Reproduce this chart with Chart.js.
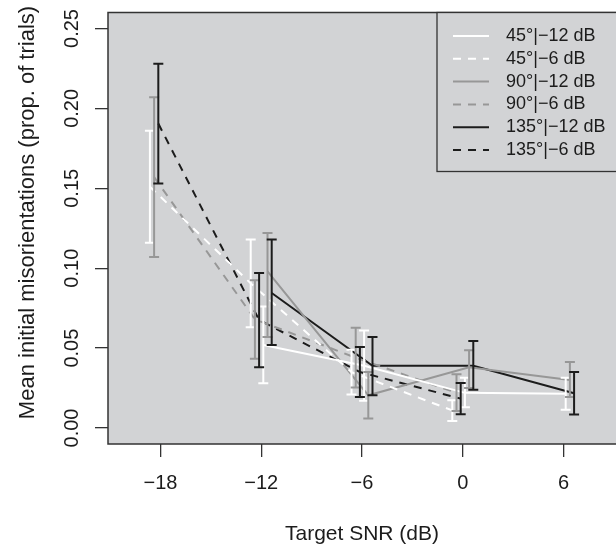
<!DOCTYPE html>
<html>
<head>
<meta charset="utf-8">
<script src="https://cdn.jsdelivr.net/npm/chart.js@4.4.1/dist/chart.umd.min.js"></script>
<style>
html, body { margin: 0; padding: 0; background: #fff; }
canvas { display: block; }
</style>
</head>
<body>
<canvas id="myChart" width="616" height="547"></canvas>
<script>
// target SNR for the two masker levels
var snrMinus6 = [-18, -12, -6, 0];
var snrMinus12 = [-12, -6, 0, 6];
var xTicks = [-18, -12, -6, 0, 6];
var yTicks = [0, 0.05, 0.10, 0.15, 0.20, 0.25];

var seriesLabels = ["45°|−12 dB", "45°|−6 dB", "90°|−12 dB", "90°|−6 dB", "135°|−12 dB", "135°|−6 dB"];
var yTitle = "Mean initial misorientations (prop. of trials)";

// means and error bar ends (prop. of trials)
var mean45_12 = [0.052, 0.039, 0.022, 0.0215];
var lo45_12 = [0.028, 0.017, 0.013, 0.0115];
var hi45_12 = [0.076, 0.061, 0.0315, 0.0315];

var mean45_6 = [0.151, 0.0905, 0.035, 0.011];
var lo45_6 = [0.116, 0.063, 0.021, 0.0044];
var hi45_6 = [0.186, 0.118, 0.049, 0.0173];

var mean90_12 = [0.098, 0.0205, 0.038, 0.030];
var lo90_12 = [0.057, 0.006, 0.025, 0.0194];
var hi90_12 = [0.122, 0.035, 0.0486, 0.0413];

var mean90_6 = [0.157, 0.068, 0.044, 0.022];
var lo90_6 = [0.107, 0.0434, 0.0253, 0.0106];
var hi90_6 = [0.207, 0.0924, 0.0628, 0.0336];

var mean135_12 = [0.0845, 0.039, 0.039, 0.0217];
var lo135_12 = [0.052, 0.0205, 0.024, 0.0084];
var hi135_12 = [0.118, 0.057, 0.0544, 0.035];

var mean135_6 = [0.1905, 0.0676, 0.035, 0.0184];
var lo135_6 = [0.153, 0.038, 0.0194, 0.0086];
var hi135_6 = [0.228, 0.097, 0.0507, 0.0282];

var FONT = "'Liberation Sans', Arial, Helvetica, sans-serif";
var INK = "#1c1c1c";
var PANEL = "#d2d3d5";

var series = [
    { label: seriesLabels[0], snr: snrMinus12, m: mean45_12, lo: lo45_12, hi: hi45_12, dodge: 0.125, color: "#ffffff", dash: [] },
    { label: seriesLabels[1], snr: snrMinus6, m: mean45_6, lo: lo45_6, hi: hi45_6, dodge: -0.625, color: "#ffffff", dash: [8, 7] },
    { label: seriesLabels[2], snr: snrMinus12, m: mean90_12, lo: lo90_12, hi: hi90_12, dodge: 0.375, color: "#979797", dash: [] },
    { label: seriesLabels[3], snr: snrMinus6, m: mean90_6, lo: lo90_6, hi: hi90_6, dodge: -0.375, color: "#979797", dash: [8, 7] },
    { label: seriesLabels[4], snr: snrMinus12, m: mean135_12, lo: lo135_12, hi: hi135_12, dodge: 0.625, color: "#1c1c1c", dash: [] },
    { label: seriesLabels[5], snr: snrMinus6, m: mean135_6, lo: lo135_6, hi: hi135_6, dodge: -0.125, color: "#1c1c1c", dash: [8, 7] }
];

var datasets = series.map(function(s) {
    return {
        label: s.label,
        data: s.snr.map(function(x, j) {
            return { x: x + s.dodge, y: s.m[j], lo: s.lo[j], hi: s.hi[j] };
        }),
        borderColor: s.color,
        borderWidth: 2,
        borderDash: s.dash,
        pointRadius: 0,
        fill: false,
        tension: 0
    };
});

var rStyle = {
    id: "rStyle",
    beforeDraw: function(c) {
        var a = c.chartArea, ctx = c.ctx;
        ctx.save();
        ctx.fillStyle = PANEL;
        ctx.fillRect(a.left, a.top, a.right - a.left + 2, a.bottom - a.top);
        ctx.restore();
    },
    afterDatasetsDraw: function(c) {
        var ctx = c.ctx, xs = c.scales.x, ys = c.scales.y;
        ctx.save();
        ctx.lineWidth = 2;
        c.data.datasets.forEach(function(ds) {
            ctx.strokeStyle = ds.borderColor;
            ds.data.forEach(function(p) {
                var px = xs.getPixelForValue(p.x);
                var t = ys.getPixelForValue(p.hi), b = ys.getPixelForValue(p.lo);
                ctx.beginPath();
                ctx.moveTo(px, t); ctx.lineTo(px, b);
                ctx.moveTo(px - 5, t); ctx.lineTo(px + 5, t);
                ctx.moveTo(px - 5, b); ctx.lineTo(px + 5, b);
                ctx.stroke();
            });
        });
        ctx.restore();
    },
    afterDraw: function(c) {
        var ctx = c.ctx, a = c.chartArea, ys = c.scales.y;
        ctx.save();
        // plot box (right edge falls outside the picture)
        ctx.strokeStyle = "#333";
        ctx.lineWidth = 1.5;
        ctx.beginPath();
        ctx.moveTo(a.right + 5, a.top);
        ctx.lineTo(a.left, a.top);
        ctx.lineTo(a.left, a.bottom);
        ctx.lineTo(a.right + 5, a.bottom);
        ctx.stroke();

        // y tick labels and title, written along the axis as R does
        ctx.fillStyle = INK;
        ctx.font = "20px " + FONT;
        ctx.textAlign = "center";
        ctx.textBaseline = "middle";
        yTicks.forEach(function(v) {
            ctx.save();
            ctx.translate(72, ys.getPixelForValue(v));
            ctx.rotate(-Math.PI / 2);
            ctx.fillText(v.toFixed(2), 0, 0);
            ctx.restore();
        });
        ctx.save();
        ctx.font = "22px " + FONT;
        ctx.translate(28, 212.5);
        ctx.rotate(-Math.PI / 2);
        ctx.fillText(yTitle, 0, 0);
        ctx.restore();

        // legend
        var lx = 437, ly = a.top, lh = 159;
        ctx.fillStyle = PANEL;
        ctx.fillRect(lx, ly, a.right - lx + 5, lh);
        ctx.strokeStyle = "#333";
        ctx.lineWidth = 1.3;
        ctx.strokeRect(lx, ly, a.right - lx + 10, lh);
        ctx.font = "18px " + FONT;
        ctx.textAlign = "left";
        c.data.datasets.forEach(function(ds, i) {
            var ry = 36 + i * 22.8;
            ctx.strokeStyle = ds.borderColor;
            ctx.lineWidth = 2;
            ctx.setLineDash(ds.borderDash);
            ctx.beginPath();
            ctx.moveTo(453, ry); ctx.lineTo(489, ry);
            ctx.stroke();
            ctx.setLineDash([]);
            ctx.fillStyle = INK;
            ctx.fillText(ds.label, 506, ry);
        });
        ctx.restore();
    }
};

new Chart(document.getElementById("myChart"), {
    type: "line",
    data: { datasets: datasets },
    options: {
        responsive: false,
        animation: false,
        events: [],
        layout: { padding: { top: 12.5, left: 0, right: 0, bottom: 0 } },
        plugins: { legend: { display: false }, tooltip: { enabled: false } },
        scales: {
            x: {
                type: "linear",
                min: -21.12,
                max: 9.12,
                afterBuildTicks: function(s) { s.ticks = xTicks.map(function(v) { return { value: v }; }); },
                afterFit: function(s) { s.height = 103; },
                border: { display: false },
                grid: { drawOnChartArea: false, drawTicks: true, tickLength: 13, tickColor: "#333", lineWidth: 1.3 },
                ticks: {
                    font: { family: FONT, size: 20 },
                    color: INK,
                    padding: 14,
                    maxRotation: 0,
                    callback: function(v) { return v < 0 ? "−" + Math.abs(v) : String(v); }
                },
                title: {
                    display: true,
                    text: "Target SNR (dB)",
                    font: { family: FONT, size: 21 },
                    color: INK,
                    padding: { top: 0, bottom: 0.4 }
                }
            },
            y: {
                type: "linear",
                min: -0.01,
                max: 0.26,
                afterBuildTicks: function(s) { s.ticks = yTicks.map(function(v) { return { value: v }; }); },
                afterFit: function(s) { s.width = 108; },
                border: { display: false },
                grid: { drawOnChartArea: false, drawTicks: true, tickLength: 13, tickColor: "#333", lineWidth: 1.3 },
                ticks: { display: false }
            }
        }
    },
    plugins: [rStyle]
});
</script>
</body>
</html>
